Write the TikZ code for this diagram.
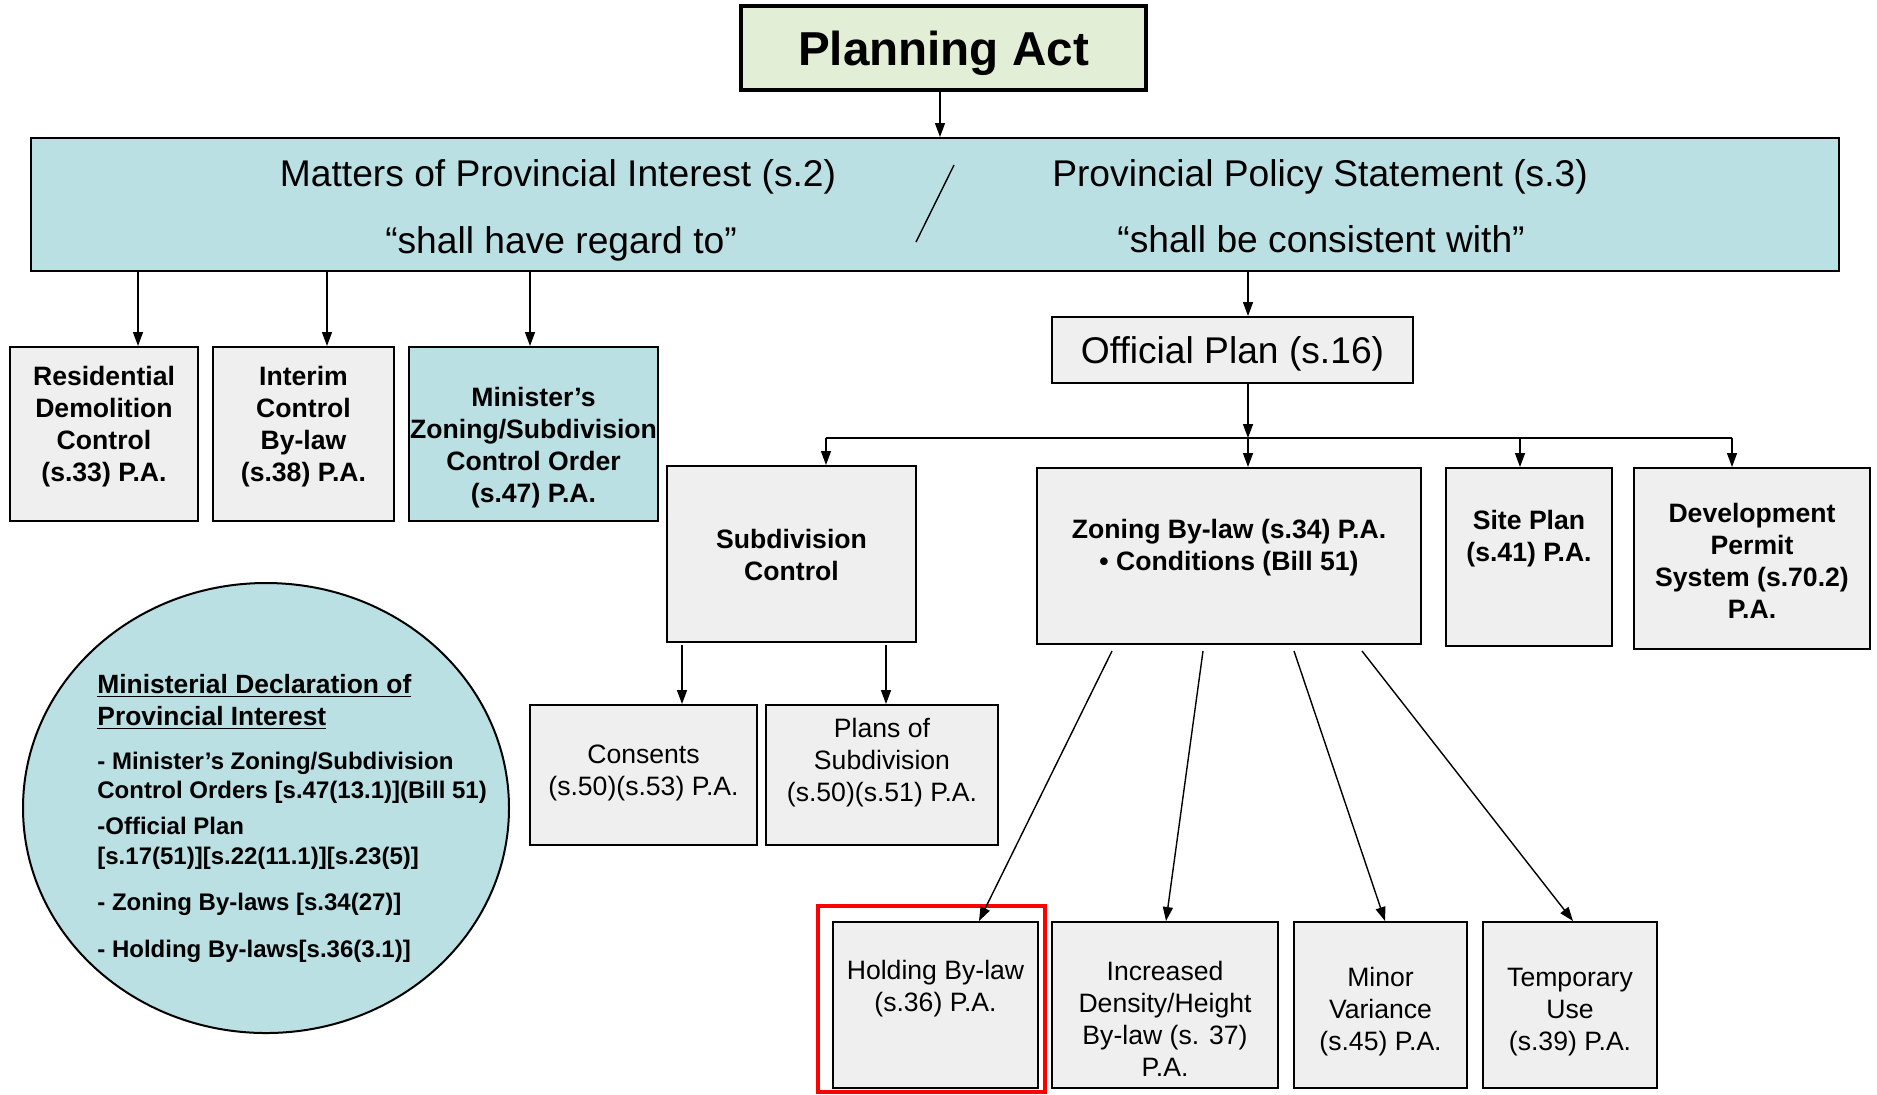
\documentclass[tikz,border=0pt]{standalone}
\usepackage{fontspec}
\setmainfont{Liberation Sans}
\usetikzlibrary{arrows.meta,shapes.geometric}
\definecolor{pagreen}{HTML}{E2EED5}
\definecolor{bandc}{HTML}{BBE0E3}
\definecolor{boxg}{HTML}{EFEFEF}
\newcommand\myfbig{\fontsize{18.6}{22}\selectfont}
\newcommand\myfbox{\fontsize{13.3}{16}\selectfont}
\begin{document}
\begin{tikzpicture}[x=0.5pt,y=-0.5pt,
  boxst/.style={draw=black, line width=1pt, fill=boxg, inner sep=0pt},
  bluebox/.style={boxst, fill=bandc},
  btxt/.style={inner sep=0pt, align=center, font=\myfbox\bfseries},
  rtxt/.style={inner sep=0pt, align=center, font=\myfbox},
  bigtxt/.style={inner sep=0pt, font=\myfbig},
  ctxt/.style={inner sep=0pt, anchor=base west, font=\fontsize{12}{14.5}\selectfont\bfseries},
  htxt/.style={inner sep=0pt, anchor=base west, font=\fontsize{13.2}{16}\selectfont\bfseries},
  arr/.style={draw=black, line width=0.7pt, -{Triangle[length=7pt,width=5pt]}},
  conn/.style={draw=black, line width=1pt}]
\useasboundingbox (0,0) rectangle (1877,1094);

% Planning Act
\node[draw=black, line width=2.2pt, fill=pagreen, minimum width=202.5pt, minimum height=42pt, inner sep=0pt,
      text depth=0pt, font=\fontsize{23.8}{28}\selectfont\bfseries] (pa) at (943.5,48) {Planning Act};

% band
\node[bluebox, minimum width=904pt, minimum height=66.5pt] (band) at (935,204.5) {};
\node[bigtxt] (m1) at (558,177) {Matters of Provincial Interest (s.2)};
\node[bigtxt] (m2) at (561,244) {“shall have regard to”};
\node[bigtxt] (p1) at (1320,177) {Provincial Policy Statement (s.3)};
\node[bigtxt] (p2) at (1321,239) {“shall be consistent with”};
\draw[line width=0.7pt] (954,165) -- (916,242);

% left boxes
\node[boxst, minimum width=94pt, minimum height=87pt] (res) at (104,434) {};
\node[btxt] (rest) at (104,427) {Residential\\Demolition\\Control\\(s.33) P.A.};
\node[boxst, minimum width=90.5pt, minimum height=87pt] (int) at (303.5,434) {};
\node[btxt] (intt) at (303.5,427) {Interim\\Control\\By-law\\(s.38) P.A.};
\node[bluebox, minimum width=124.5pt, minimum height=87pt] (min) at (533.5,434) {};
\node[btxt] (mint) at (533.5,448) {Minister’s\\Zoning/Subdivision\\Control Order\\(s.47) P.A.};

% official plan
\node[boxst, minimum width=180.5pt, minimum height=33pt, text depth=0pt, font=\myfbig] (op) at (1232.5,350) {Official Plan (s.16)};

% second row
\node[boxst, minimum width=124.5pt, minimum height=88pt] (sub) at (791.5,554) {};
\node[btxt] (subt) at (791.5,555) {Subdivision\\Control};
\node[boxst, minimum width=192pt, minimum height=88pt] (zon) at (1229,556) {};
\node[btxt] (zont) at (1229,548) {Zoning By-law (s.34) P.A.\\• Conditions (Bill 51)};
\node[boxst, minimum width=83pt, minimum height=89pt] (site) at (1529,557) {};
\node[btxt] (sitet) at (1529,539) {Site Plan\\(s.41) P.A.};
\node[boxst, minimum width=118pt, minimum height=90.5pt] (dev) at (1752,558.5) {};
\node[btxt] (devt) at (1752,561) {Development\\Permit\\System (s.70.2)\\P.A.};

% subdivision children
\node[boxst, minimum width=113.5pt, minimum height=70pt] (cons) at (643.5,775) {};
\node[rtxt] (const) at (643.5,773) {Consents\\(s.50)(s.53) P.A.};
\node[boxst, minimum width=116pt, minimum height=70pt] (plan) at (882,775) {};
\node[rtxt] (plant) at (882,763) {Plans of\\Subdivision\\(s.50)(s.51) P.A.};

% zoning children
\node[boxst, minimum width=102.5pt, minimum height=83pt] (hold) at (935.5,1005) {};
\node[rtxt] (holdt) at (935.5,989) {Holding By-law\\(s.36) P.A.};
\node[boxst, minimum width=113pt, minimum height=83pt] (inc) at (1165,1005) {};
\node[rtxt] (inct) at (1165,1019) {Increased\\Density/Height\\By-law (s. 37)\\P.A.};
\node[boxst, minimum width=86.5pt, minimum height=83pt] (mvar) at (1380.5,1005) {};
\node[rtxt] (mvart) at (1380.5,1012) {Minor\\Variance\\(s.45) P.A.};
\node[boxst, minimum width=87pt, minimum height=83pt] (tmp) at (1570,1005) {};
\node[rtxt] (tmpt) at (1570,1012) {Temporary\\Use\\(s.39) P.A.};

% red highlight
\draw[red, line width=2pt] (818,906) rectangle (1045,1092);

% ellipse
\node[ellipse, draw=black, line width=1pt, fill=bandc, minimum width=243pt, minimum height=225pt, inner sep=0pt] (circ) at (266,808) {};
\node[htxt] (c1) at (97,693) {\underline{Ministerial Declaration of}};
\node[htxt] (c2) at (97,725) {\underline{Provincial Interest}};
\node[ctxt] (c3) at (97,769) {- Minister’s Zoning/Subdivision};
\node[ctxt] (c4) at (97,798) {Control Orders [s.47(13.1)](Bill 51)};
\node[ctxt] (c5) at (97,834) {-Official Plan};
\node[ctxt] (c6) at (97,864) {[s.17(51)][s.22(11.1)][s.23(5)]};
\node[ctxt] (c7) at (97,910) {- Zoning By-laws [s.34(27)]};
\node[ctxt] (c8) at (97,957) {- Holding By-laws[s.36(3.1)]};

% connectors
\draw[arr] ([xshift=-1.75pt]pa.south) -- ([xshift=-1.75pt]pa.south |- band.north);
\draw[arr] ([xshift=17pt]res.north |- band.south) -- ([xshift=17pt]res.north);
\draw[arr] ([xshift=11.75pt]int.north |- band.south) -- ([xshift=11.75pt]int.north);
\draw[arr] ([xshift=-1.75pt]min.north |- band.south) -- ([xshift=-1.75pt]min.north);
\draw[arr] ([xshift=7.75pt]op.north |- band.south) -- ([xshift=7.75pt]op.north);

\coordinate (j) at (1248,438);
\coordinate (jl) at (826,438);
\coordinate (js) at (1520,438);
\coordinate (jr) at (1732,438);
\draw[arr] ([xshift=7.75pt]op.south) -- (j);
\draw[conn] (jl) -- (jr);
\draw[arr] (jl) -- (jl |- sub.north);
\draw[arr] (j) -- (j |- zon.north);
\draw[arr] (js) -- (js |- site.north);
\draw[arr] (jr) -- (jr |- dev.north);

\draw[arr] ([xshift=19.25pt,yshift=-1pt]cons.north |- sub.south) -- ([xshift=19.25pt]cons.north);
\draw[arr] ([xshift=2pt,yshift=-1pt]plan.north |- sub.south) -- ([xshift=2pt]plan.north);

\draw[arr] ([xshift=-58.5pt,yshift=-3pt]zon.south) -- ([xshift=21.75pt]hold.north);
\draw[arr] ([xshift=-13pt,yshift=-3pt]zon.south) -- ([xshift=0.5pt]inc.north);
\draw[arr] ([xshift=32.5pt,yshift=-3pt]zon.south) -- ([xshift=2.25pt]mvar.north);
\draw[arr] ([xshift=66.5pt,yshift=-3pt]zon.south) -- ([xshift=1.5pt]tmp.north);
\end{tikzpicture}
\end{document}
